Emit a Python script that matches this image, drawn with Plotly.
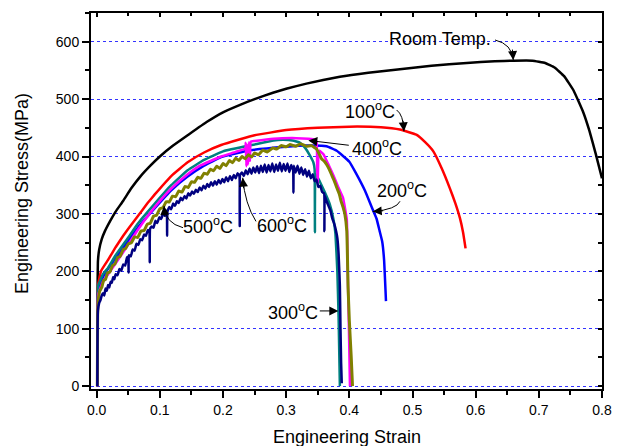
import plotly.graph_objects as go

# ---------------- data (strain, stress MPa) ----------------
room_temp = [(0.001, 0), (0.0015, 180), (0.002, 218), (0.004, 238), (0.008, 256), (0.013, 270),
             (0.021, 287), (0.03, 304), (0.042, 323), (0.055, 345), (0.069, 365), (0.085, 384),
             (0.1, 400), (0.121, 419), (0.144, 437), (0.174, 460), (0.2, 477), (0.227, 490),
             (0.25, 500), (0.279, 511), (0.3, 518), (0.332, 527), (0.385, 539), (0.43, 546),
             (0.48, 552), (0.53, 558), (0.586, 563), (0.63, 566), (0.66, 567), (0.69, 567),
             (0.71, 563), (0.725, 555), (0.74, 540), (0.755, 515), (0.77, 478), (0.78, 445),
             (0.79, 405), (0.8, 362)]

t100 = [(0.001, 0), (0.0015, 150), (0.0025, 178), (0.007, 201), (0.018, 220), (0.03, 242),
        (0.042, 262), (0.05, 274), (0.065, 296), (0.08, 318), (0.092, 334), (0.118, 366),
        (0.144, 390), (0.17, 407), (0.197, 420), (0.227, 430), (0.25, 437), (0.3, 446),
        (0.35, 450), (0.4, 452), (0.45, 451), (0.48, 447), (0.506, 438), (0.52, 425),
        (0.533, 409), (0.546, 380), (0.559, 345), (0.568, 318), (0.575, 293), (0.58, 268),
        (0.584, 240)]

t200 = [(0.001, 0), (0.0015, 140), (0.0025, 165), (0.01, 190), (0.02, 208), (0.04, 238),
        (0.065, 276), (0.092, 310), (0.118, 341), (0.144, 365), (0.17, 384), (0.197, 399),
        (0.243, 411), (0.3, 417), (0.33, 419), (0.364, 418), (0.38, 410), (0.39, 401),
        (0.4, 391), (0.41, 372), (0.425, 340), (0.435, 313), (0.443, 292), (0.448, 270),
        (0.452, 252), (0.455, 220), (0.458, 148)]

t300 = [(0.001, 0), (0.0015, 150), (0.0025, 175), (0.01, 195), (0.018, 206), (0.03, 228),
        (0.05, 259), (0.065, 283), (0.092, 318), (0.118, 350), (0.144, 376), (0.17, 394),
        (0.2, 409), (0.25, 421), (0.28, 428), (0.295, 429), (0.31, 428), (0.322, 424),
        (0.33, 415), (0.337, 403), (0.343, 390), (0.345, 378), (0.3455, 268), (0.3465, 370),
        (0.353, 357), (0.361, 338), (0.369, 317), (0.375, 290), (0.378, 265), (0.381, 200),
        (0.383, 120), (0.385, 0)]

t400 = [(0.001, 0), (0.0015, 135), (0.0025, 160), (0.01, 182), (0.02, 198), (0.04, 230),
        (0.065, 272), (0.092, 312), (0.118, 344), (0.144, 369), (0.1636, 384), (0.197, 400),
        (0.22, 408), (0.2355, 414), (0.236, 424), (0.237, 383), (0.238, 420), (0.2395, 386),
        (0.241, 425), (0.2425, 392), (0.244, 426), (0.25, 427), (0.28, 431), (0.316, 432),
        (0.335, 431), (0.342, 430), (0.348, 426), (0.349, 380), (0.35, 354), (0.351, 400),
        (0.353, 410), (0.359, 404), (0.366, 388), (0.374, 369), (0.382, 348), (0.39, 328),
        (0.396, 290), (0.397, 230), (0.398, 170), (0.399, 120), (0.401, 0)]

t500 = [(0.001, 0), (0.0015, 125), (0.0025, 150), (0.005, 166), (0.008, 172), (0.011, 184),
        (0.014, 186), (0.017, 197), (0.021, 199), (0.025, 210), (0.029, 213), (0.033, 224),
        (0.037, 226), (0.042, 238), (0.046, 240), (0.05, 248), (0.055, 250), (0.06, 260),
        (0.065, 259), (0.07, 270), (0.075, 271), (0.08, 282), (0.085, 284), (0.09, 296),
        (0.095, 298), (0.1, 309), (0.105, 311), (0.11, 321), (0.115, 321), (0.12, 331),
        (0.125, 330), (0.13, 340), (0.135, 338), (0.14, 348), (0.145, 346), (0.15, 356),
        (0.155, 355), (0.16, 364), (0.165, 362), (0.17, 371), (0.175, 369), (0.18, 378),
        (0.185, 375), (0.19, 383), (0.195, 379), (0.2, 388), (0.205, 384), (0.21, 393),
        (0.215, 389), (0.22, 397), (0.225, 393), (0.23, 400), (0.235, 396), (0.24, 403),
        (0.245, 399), (0.25, 406), (0.256, 403), (0.263, 411), (0.27, 408), (0.279, 415),
        (0.285, 413), (0.292, 419), (0.3, 417), (0.306, 421), (0.315, 418), (0.323, 422),
        (0.332, 418), (0.34, 419), (0.348, 413), (0.352, 405), (0.356, 396), (0.36, 392),
        (0.364, 386), (0.368, 378), (0.372, 368), (0.376, 358), (0.38, 346), (0.384, 335),
        (0.387, 322), (0.39, 312), (0.393, 299), (0.396, 270), (0.398, 172), (0.4, 114),
        (0.403, 50), (0.405, 0)]

t600 = [(0.001, 0), (0.0012, 60), (0.0015, 110), (0.002, 132), (0.004, 145), (0.006, 150),
        (0.008, 158), (0.01, 162), (0.012, 158), (0.014, 170), (0.016, 166), (0.018, 176),
        (0.02, 172), (0.022, 182), (0.024, 180), (0.026, 190), (0.028, 186), (0.03, 195),
        (0.033, 193), (0.036, 204), (0.039, 201), (0.042, 212), (0.045, 210), (0.048, 224),
        (0.05, 226), (0.0505, 198), (0.051, 228), (0.054, 226), (0.057, 238), (0.06, 236),
        (0.063, 248), (0.066, 246), (0.069, 256), (0.072, 254), (0.075, 264), (0.078, 262),
        (0.081, 272), (0.0835, 268), (0.084, 216), (0.0845, 274), (0.087, 278), (0.09, 276),
        (0.093, 288), (0.096, 284), (0.099, 294), (0.102, 291), (0.105, 300), (0.108, 297),
        (0.111, 306), (0.1115, 262), (0.112, 304), (0.115, 312), (0.118, 308), (0.121, 318),
        (0.124, 314), (0.127, 322), (0.13, 319), (0.133, 328), (0.136, 324), (0.139, 331),
        (0.142, 327), (0.145, 336), (0.148, 332), (0.151, 339), (0.154, 335), (0.157, 342),
        (0.16, 338), (0.163, 346), (0.166, 341), (0.169, 349), (0.172, 344), (0.175, 352),
        (0.178, 347), (0.181, 355), (0.184, 349), (0.187, 357), (0.19, 351), (0.193, 359),
        (0.196, 353), (0.199, 361), (0.202, 355), (0.205, 364), (0.208, 357), (0.211, 366),
        (0.214, 359), (0.217, 368), (0.22, 362), (0.223, 371), (0.226, 366), (0.2265, 279),
        (0.227, 368), (0.23, 372), (0.233, 366), (0.236, 376), (0.239, 369), (0.242, 379),
        (0.245, 370), (0.248, 381), (0.251, 372), (0.254, 383), (0.257, 371), (0.26, 384),
        (0.263, 373), (0.266, 386), (0.269, 372), (0.272, 385), (0.275, 374), (0.278, 388),
        (0.281, 373), (0.284, 386), (0.287, 375), (0.29, 389), (0.293, 374), (0.296, 387),
        (0.299, 375), (0.302, 388), (0.305, 373), (0.308, 385), (0.311, 376), (0.3115, 337),
        (0.312, 384), (0.315, 372), (0.318, 384), (0.321, 370), (0.324, 381), (0.327, 368),
        (0.33, 378), (0.333, 365), (0.336, 375), (0.339, 362), (0.342, 369), (0.345, 357),
        (0.348, 360), (0.351, 347), (0.354, 349), (0.357, 338), (0.36, 336), (0.3605, 270),
        (0.361, 332), (0.364, 322), (0.367, 314), (0.37, 306), (0.373, 292), (0.376, 283),
        (0.379, 270), (0.381, 258), (0.383, 230), (0.385, 175), (0.386, 100), (0.387, 40),
        (0.388, 5)]

x_tick_vals = [0.0, 0.1, 0.2, 0.3, 0.4, 0.5, 0.6, 0.7, 0.8]
x_tick_text = ["0.0", "0.1", "0.2", "0.3", "0.4", "0.5", "0.6", "0.7", "0.8"]
y_tick_vals = [0, 100, 200, 300, 400, 500, 600]

series = [
    ("Room Temp.", room_temp, "#000000", 2.5),
    ("100°C", t100, "#ff0000", 2.5),
    ("200°C", t200, "#0000ff", 2.5),
    ("300°C", t300, "#008080", 2.5),
    ("400°C", t400, "#ff00ff", 2.5),
    ("500°C", t500, "#808000", 3),
    ("600°C", t600, "#000080", 2.5),
]

FONT = "Liberation Sans, Arial, sans-serif"

fig = go.Figure()
for name, pts, color, lw in series:
    fig.add_trace(go.Scatter(
        x=[p[0] for p in pts], y=[p[1] for p in pts], mode="lines", name=name,
        line=dict(color=color, width=lw, shape="spline", smoothing=0.3),
        showlegend=False, hoverinfo="skip"))

# helper trace for the mirrored (inside-tick) top/right axes
fig.add_trace(go.Scatter(x=[None], y=[None], xaxis="x2", yaxis="y2",
                         showlegend=False, hoverinfo="skip"))

XR = [-0.009, 0.8]
YR = [-5, 650]

# the page body has an 8px margin, so the figure is offset by 8px
fig.update_layout(
    width=616, height=438,
    margin=dict(l=83, r=22, t=3, b=57),
    paper_bgcolor="white", plot_bgcolor="white",
    font=dict(family=FONT, color="black", size=14),
    xaxis=dict(range=XR, tickvals=x_tick_vals, ticktext=x_tick_text,
               ticks="outside", ticklen=7, tickwidth=1.5, tickcolor="black",
               showline=True, linewidth=2, linecolor="black", mirror=True,
               showgrid=False, zeroline=False, tickfont=dict(size=14),
               minor=dict(ticks="outside", ticklen=4, tickwidth=1.5, tickcolor="black",
                          tick0=0, dtick=0.05, showgrid=False)),
    yaxis=dict(range=YR, tickvals=y_tick_vals,
               ticks="outside", ticklen=7, tickwidth=1.5, tickcolor="black",
               showline=True, linewidth=2, linecolor="black", mirror=True,
               showgrid=True, gridcolor="#3333ff", gridwidth=1, griddash="dot",
               zeroline=False, tickfont=dict(size=14),
               minor=dict(ticks="outside", ticklen=4, tickwidth=1.5, tickcolor="black",
                          tick0=0, dtick=50, showgrid=False)),
    xaxis2=dict(range=XR, overlaying="x", side="top", anchor="y",
                tickvals=x_tick_vals, ticks="inside", ticklen=4, tickwidth=1.5,
                tickcolor="black", showticklabels=False, showline=False,
                showgrid=False, zeroline=False,
                minor=dict(ticks="inside", ticklen=3, tickwidth=1.5, tickcolor="black",
                           tick0=0, dtick=0.05, showgrid=False)),
    yaxis2=dict(range=YR, overlaying="y", side="right", anchor="x",
                tickvals=y_tick_vals, ticks="inside", ticklen=4, tickwidth=1.5,
                tickcolor="black", showticklabels=False, showline=False,
                showgrid=False, zeroline=False,
                minor=dict(ticks="inside", ticklen=4, tickwidth=1.5, tickcolor="black",
                           tick0=0, dtick=50, showgrid=False)),
)

# axis titles
fig.add_annotation(text="Engineering Strain", xref="paper", yref="paper",
                   x=0.5, y=-0.127, xanchor="center", yanchor="middle",
                   showarrow=False, font=dict(size=18, family=FONT))
fig.add_annotation(text="Engineering Stress(MPa)", xref="paper", yref="paper",
                   x=-0.134, y=0.52, xanchor="center", yanchor="middle", textangle=-90,
                   showarrow=False, font=dict(size=18, family=FONT))

# curve labels: (text, strain, stress)
labels = [
    ("Room Temp.", 0.5435, 604),
    ("100<sup>o</sup>C", 0.4327, 481),
    ("400<sup>o</sup>C", 0.4438, 416),
    ("200<sup>o</sup>C", 0.4834, 343),
    ("300<sup>o</sup>C", 0.3108, 130),
    ("500<sup>o</sup>C", 0.1762, 279),
    ("600<sup>o</sup>C", 0.2934, 281),
]
for txt, lx, ly in labels:
    fig.add_annotation(text=txt, x=lx, y=ly, xref="x", yref="y", showarrow=False,
                       xanchor="center", yanchor="middle", font=dict(size=18, family=FONT))

# curved leader lines: (tail, control, tip) in data units
leaders = [
    ((0.6306, 603), (0.6576, 596), (0.6596, 568)),
    ((0.4749, 481), (0.4854, 473), (0.4865, 444)),
    ((0.4802, 322), (0.4749, 308), (0.4370, 304)),
    ((0.1366, 276), (0.1081, 284), (0.1066, 314)),
    ((0.2522, 287), (0.2348, 317), (0.2312, 363)),
]
for (x0, y0), (cx, cy), (x1, y1) in leaders:
    fig.add_shape(type="path", xref="x", yref="y",
                  path=f"M {x0},{y0} Q {cx},{cy} {x1},{y1}",
                  line=dict(color="black", width=1))

# arrow heads: (tip strain, tip stress, ax, ay)
heads = [
    (0.6596, 568, -1, -12),
    (0.4865, 444, -1, -12),
    (0.4370, 304, 12, -1),
    (0.1066, 314, 1, 12),
    (0.2312, 363, 1, 12),
    (0.3350, 428, 42, 5),
    (0.3825, 131, -20, 0),
]
for hx, hy, ax, ay in heads:
    fig.add_annotation(text="", x=hx, y=hy, xref="x", yref="y", ax=ax, ay=ay,
                       showarrow=True, arrowhead=2, arrowsize=1.8, arrowwidth=1,
                       arrowcolor="black")

fig.write_html("out.html")
